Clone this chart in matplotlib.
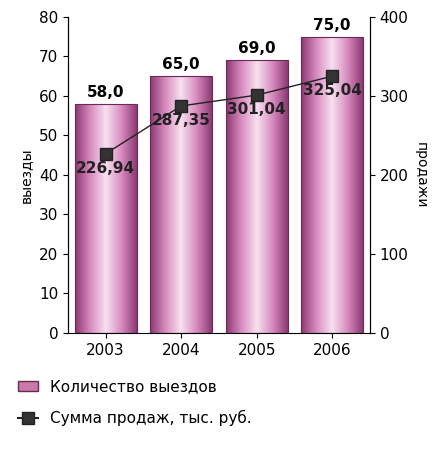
import matplotlib
matplotlib.use("Agg")
import matplotlib.pyplot as plt
import numpy as np
from matplotlib.patches import Rectangle
from matplotlib.lines import Line2D
from matplotlib.colors import LinearSegmentedColormap

years = ["2003", "2004", "2005", "2006"]
trips = [58.0, 65.0, 69.0, 75.0]
sales = [226.94, 287.35, 301.04, 325.04]

fig = plt.figure(figsize=(4.41, 4.58), dpi=100)
ax = fig.add_axes([0.154, 0.273, 0.685, 0.69])
ax2 = ax.twinx()

cmap = LinearSegmentedColormap.from_list(
    "bar", [(0.55, 0.22, 0.45), (0.85, 0.55, 0.75), (0.97, 0.88, 0.94),
            (0.85, 0.55, 0.75), (0.55, 0.22, 0.45)])
grad = np.linspace(0, 1, 256).reshape(1, -1)
w = 0.82
x = np.arange(len(years))
for xi, v in zip(x, trips):
    rect = Rectangle((xi - w / 2, 0), w, v, facecolor="none", edgecolor="#6a2a55", lw=0.8, zorder=3)
    ax.add_patch(rect)
    im = ax.imshow(grad, cmap=cmap, aspect="auto", extent=(xi - w / 2, xi + w / 2, 0, v), zorder=2)
    im.set_clip_path(rect)
    ax.text(xi, v + 1, f"{v:.1f}".replace(".", ","), ha="center", va="bottom",
            fontsize=11, fontweight="bold")

ax.set_xlim(-0.5, 3.5)
ax.set_ylim(0, 80)
ax.set_yticks(range(0, 81, 10))
ax.set_xticks(x)
ax.set_xticklabels(years)
ax.set_ylabel("выезды", fontsize=10)
ax2.set_ylim(0, 400)
ax2.set_yticks(range(0, 401, 100))
ax2.set_ylabel("продажи", fontsize=10, rotation=270, labelpad=14)
ax2.plot(x, sales, color="#222222", lw=1, marker="s", markersize=9,
         markerfacecolor="#333333", zorder=5)
for xi, s in zip(x, sales):
    ax2.text(xi, s - 9, f"{s:.2f}".replace(".", ","), ha="center", va="top",
             fontsize=11, fontweight="bold", color="#222222")
for a in (ax, ax2):
    a.tick_params(labelsize=11, direction="out")
    a.spines["top"].set_visible(False)
ax2.spines["bottom"].set_visible(False)

handles = [Rectangle((0, 0), 1, 1, facecolor="#c87aa8", edgecolor="#6a2a55"),
           Line2D([0], [0], color="#222222", marker="s", markersize=8, markerfacecolor="#333333")]
fig.legend(handles, ["Количество выездов", "Сумма продаж, тыс. руб."],
           loc="lower left", bbox_to_anchor=(0.01, 0.04), frameon=False,
           fontsize=11, handlelength=1.3, labelspacing=1.0)
fig.savefig("out.png")
